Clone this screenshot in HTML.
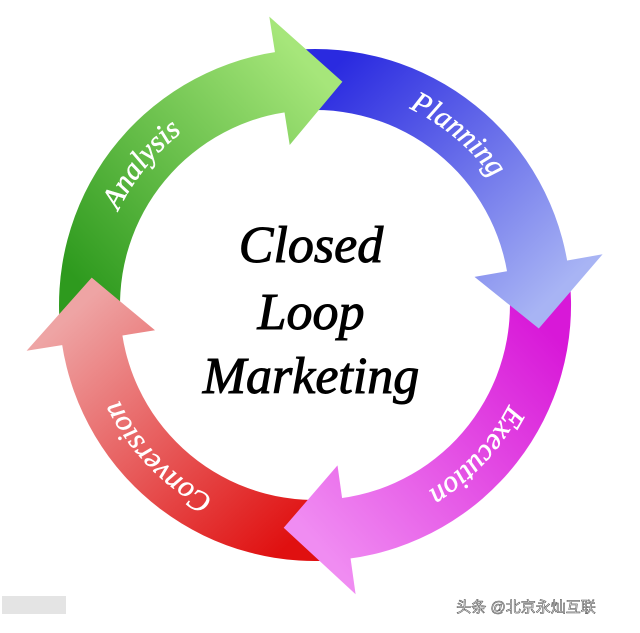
<!DOCTYPE html>
<html><head><meta charset="utf-8"><style>
html,body{margin:0;padding:0;background:#fff;width:640px;height:633px;overflow:hidden}
svg{display:block}
.lbl{font-family:"Liberation Serif",serif;font-style:italic;font-size:30px;fill:#fff;stroke:#fff;stroke-width:0.5}
.ttl{font-family:"Liberation Serif",serif;font-style:italic;font-size:52px;fill:#000;stroke:#000;stroke-width:1}
</style></head><body>
<svg id="s" width="640" height="633" viewBox="0 0 640 633" xmlns="http://www.w3.org/2000/svg">
<defs id="d"></defs>
<g id="bodies"></g>
<g id="heads"></g>
<g id="labels">
<path id="pa" fill="none"/><path id="pp" fill="none"/><path id="pe" fill="none"/><path id="pc" fill="none"/>
<text class="lbl"><textPath href="#pa" startOffset="50%" text-anchor="middle">Analysis</textPath></text>
<text class="lbl"><textPath href="#pp" startOffset="50%" text-anchor="middle">Planning</textPath></text>
<text class="lbl"><textPath href="#pe" startOffset="50%" text-anchor="middle">Execution</textPath></text>
<text class="lbl"><textPath href="#pc" startOffset="50%" text-anchor="middle">Conversion</textPath></text>
</g>
<text class="ttl" x="311" y="262" text-anchor="middle">Closed</text>
<text class="ttl" x="311" y="329" text-anchor="middle">Loop</text>
<text class="ttl" x="311" y="393" text-anchor="middle">Marketing</text>
<rect x="2" y="596" width="64" height="18" fill="#e4e4e4"/>
<text x="526" y="612" text-anchor="middle" font-family="Liberation Sans, Noto Sans CJK SC, sans-serif" font-size="15" fill="#fff" stroke="#555" stroke-width="0.6">头条 @北京永灿互联</text>
</svg>
<script>
var cx=315,cy=305,R=256,r=195,HO=292,HI=162,HL=16;
function P(a,rad){a=a*Math.PI/180;return [(cx+rad*Math.sin(a)).toFixed(1),(cy-rad*Math.cos(a)).toFixed(1)];}
var segs=[
 {t:7,c1:"#2e9a1e",c2:"#a6e67a"},
 {t:96,c1:"#2a2ae0",c2:"#a8b4f4"},
 {t:188,c1:"#d818d8",c2:"#f08cf2"},
 {t:277,c1:"#e01010",c2:"#eea4a4"}
];
var ns="http://www.w3.org/2000/svg",defs=document.getElementById('d'),gb=document.getElementById('bodies'),gh=document.getElementById('heads');
segs.forEach(function(s,i){
 var t=s.t,b=t-HL,st=t-90-HL+1.5;
 var gid='g'+i,gr=document.createElementNS(ns,'linearGradient');
 var p1=P(st+10,225),p2=P(t-5,225);
 gr.setAttribute('id',gid);gr.setAttribute('gradientUnits','userSpaceOnUse');
 gr.setAttribute('x1',p1[0]);gr.setAttribute('y1',p1[1]);gr.setAttribute('x2',p2[0]);gr.setAttribute('y2',p2[1]);
 gr.innerHTML='<stop offset="0" stop-color="'+s.c1+'"/><stop offset="1" stop-color="'+s.c2+'"/>';
 defs.appendChild(gr);
 var a=P(st,R),bo=P(b+0.5,R),ho=P(b,HO),tp=P(t,225),hi=P(b,HI),bi=P(b+0.5,r),si=P(st,r);
 var d='M'+a+' A'+R+' '+R+' 0 0 1 '+bo+' L'+bi+' A'+r+' '+r+' 0 0 0 '+si+' Z';
 var p=document.createElementNS(ns,'path');p.setAttribute('d',d);p.setAttribute('fill','url(#'+gid+')');
 gb.appendChild(p);
 var h=document.createElementNS(ns,'path');h.setAttribute('d','M'+ho+' L'+tp+' L'+hi+' Z');h.setAttribute('fill','url(#'+gid+')');
 gh.appendChild(h);
});
function arc(id,c){var rr=218,a=P(c-60,rr),b=P(c+60,rr);
 document.getElementById(id).setAttribute('d','M'+a+' A'+rr+' '+rr+' 0 0 1 '+b);}
arc('pa',-51);arc('pp',40);arc('pe',133);arc('pc',226);
</script>
</body></html>
